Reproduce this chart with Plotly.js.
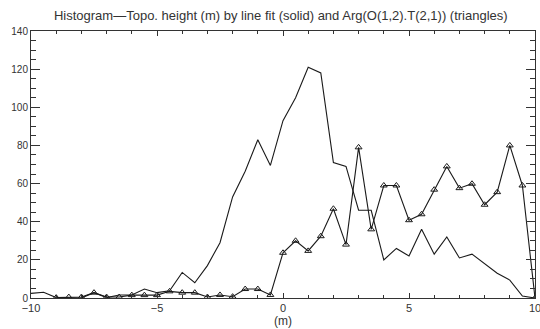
<!DOCTYPE html>
<html>
<head>
<meta charset="utf-8">
<script src="https://cdn.plot.ly/plotly-3.0.1.min.js"></script>
<style>html,body{margin:0;padding:0;background:#fff;}#chart{width:540px;height:329px;}</style>
</head>
<body>
<div id="chart"></div>
<script>
const titleText = "Histogram\u2014Topo. height (m) by line fit (solid) and Arg(O(1,2).T(2,1)) (triangles)";
const xLabel = "(m)";
const topoX = [-10,-9.5,-9,-8.5,-8,-7.5,-7,-6.5,-6,-5.5,-5,-4.5,-4,-3.5,-3,-2.5,-2,-1.5,-1,-0.5,0,0.5,1,1.5,2,2.5,3,3.5,4,4.5,5,5.5,6,6.5,7,7.5,8,8.5,9,9.5,10];
const topoY = [2.4,3,0.2,0,0,2.8,0.2,1.6,1.6,4.7,2.8,3.8,13.4,8,17,29,53,66.5,83,69.5,93,105,121,118,71,69,46,46,20,26,22,36,23,32,21,23,18,13,9.4,1,0];
const argX = [-9,-8.5,-8,-7.5,-7,-6.5,-6,-5.5,-5,-4.5,-4,-3.5,-3,-2.5,-2,-1.5,-1,-0.5,0,0.5,1,1.5,2,2.5,3,3.5,4,4.5,5,5.5,6,6.5,7,7.5,8,8.5,9,9.5,10];
const argY = [0.2,0.5,0.5,2.8,0.5,0.5,1.5,1.5,1.5,3.5,2.8,2.8,0.5,1.6,0.7,4.7,4.7,1.6,23.7,30,24.7,32.4,46.8,28,79,36,59,59,40.8,43.9,56.8,69,57.6,59.9,48.9,55.5,80,59,0];
const xTicks = [-10,-5,0,5,10];
const yTicks = [0,20,40,60,80,100,120,140];

const ink = '#1a1a1a';
const data = [
  {x: topoX, y: topoY, type: 'scatter', mode: 'lines', line: {color: ink, width: 1.1}, hoverinfo: 'skip'},
  {x: argX, y: argY, type: 'scatter', mode: 'lines+markers', line: {color: ink, width: 1.1},
   marker: {symbol: 'triangle-up-open', size: 6, color: ink, line: {width: 1, color: ink}}, hoverinfo: 'skip'}
];
const layout = {
  width: 540, height: 329,
  margin: {l: 31, r: 5, t: 31, b: 31},
  paper_bgcolor: '#fff', plot_bgcolor: '#fff',
  showlegend: false,
  font: {family: 'Liberation Sans, Arial, sans-serif', size: 11, color: '#333'},
  title: {text: titleText, x: 0.52, xanchor: 'center', yref: 'container', y: 0.952, yanchor: 'middle', font: {size: 13, color: '#333'}},
  xaxis: {
    range: [-10, 10], tickmode: 'array', tickvals: xTicks, ticks: 'inside', ticklen: 5, tickcolor: '#333',
    ticklabeloverflow: 'allow',
    showline: true, linecolor: '#333', linewidth: 1, mirror: 'ticks', showgrid: false, zeroline: false,
    minor: {dtick: 1, ticks: 'inside', ticklen: 3, tickcolor: '#333', showgrid: false},
    title: {text: xLabel, standoff: 0, font: {size: 12}}, tickfont: {size: 11}
  },
  yaxis: {
    range: [0, 140], tickmode: 'array', tickvals: yTicks, ticks: 'inside', ticklen: 9, tickcolor: '#333',
    showline: true, linecolor: '#333', linewidth: 1, mirror: 'ticks', showgrid: false, zeroline: false,
    minor: {dtick: 5, ticks: 'inside', ticklen: 5, tickcolor: '#333', showgrid: false},
    tickfont: {size: 10}
  }
};
Plotly.newPlot('chart', data, layout, {staticPlot: true, displayModeBar: false});
</script>
</body>
</html>
